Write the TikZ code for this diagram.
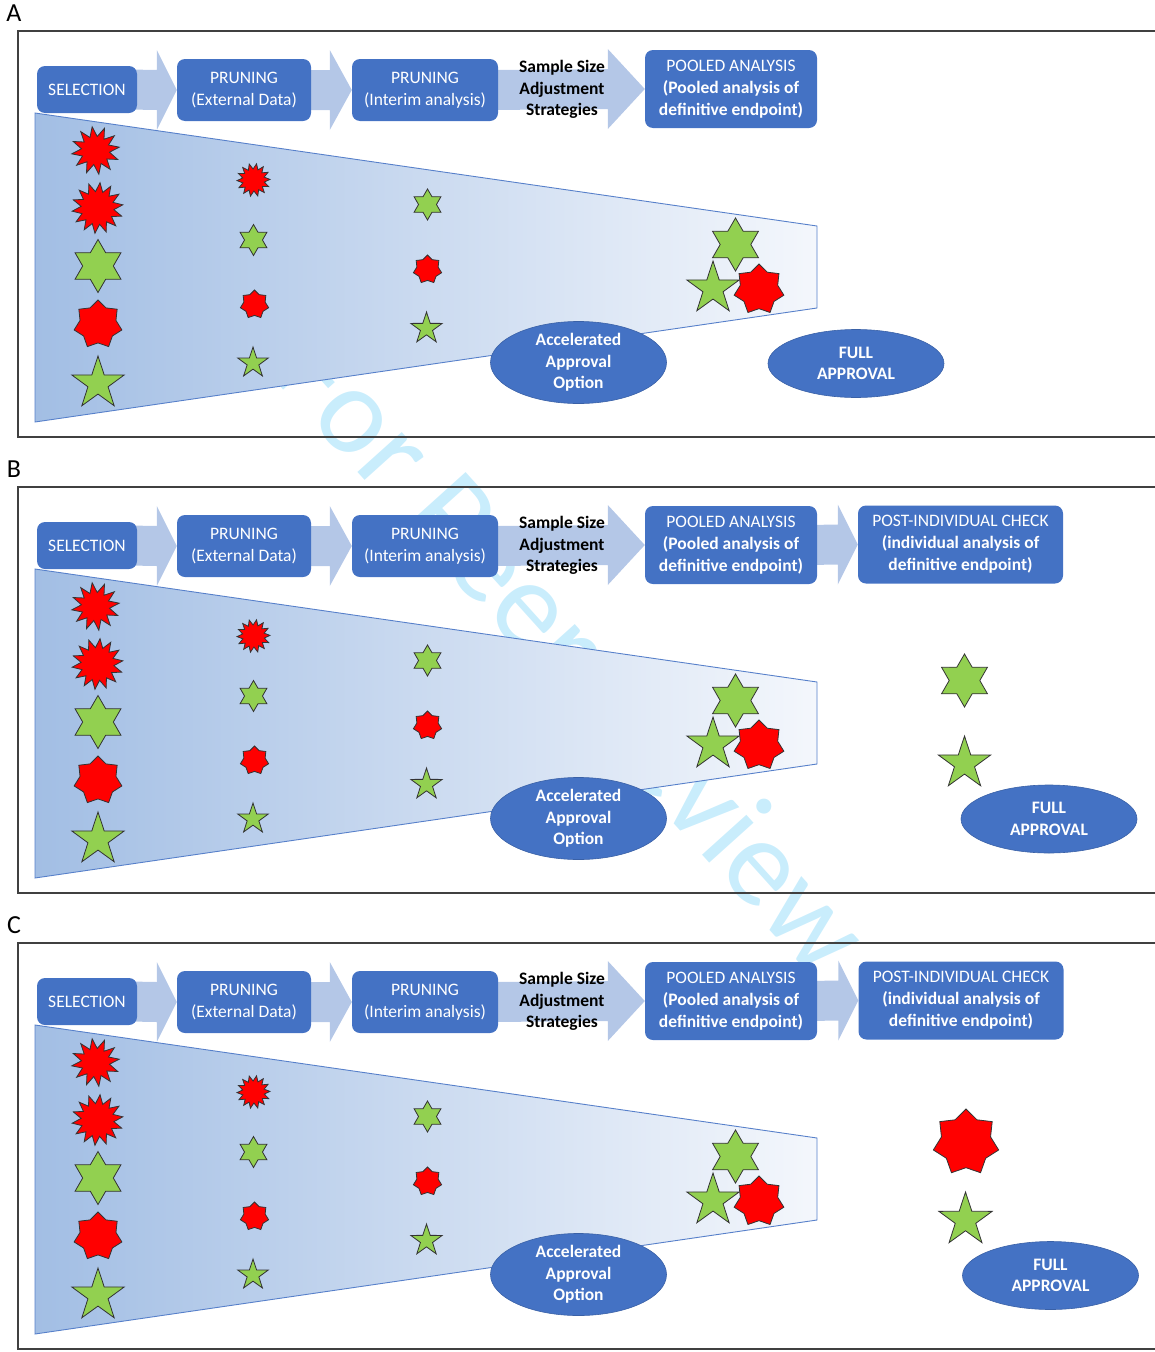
\documentclass[tikz,border=0pt]{standalone}
\usepackage{fontspec}
\setmainfont{Carlito}
\usetikzlibrary{shapes.geometric,calc,positioning}
\pgfdeclarelayer{bg}
\pgfsetlayers{bg,main}
\definecolor{boxblue}{HTML}{4472C4}
\definecolor{arrowblue}{HTML}{B4C7E7}
\definecolor{funnelL}{HTML}{A2BEE4}
\definecolor{funnelR}{HTML}{F4F7FC}
\definecolor{starred}{HTML}{FF0000}
\definecolor{stargreen}{HTML}{92D050}
\definecolor{wmark}{HTML}{C9EDFC}
\tikzset{
  panel/.style    = {draw=black!75, line width=1.6pt},
  tag/.style      = {font=\fontsize{26}{26}\selectfont, inner sep=0pt},
  stepbox/.style  = {fill=boxblue, rounded corners=8pt, text=white, align=center,
                     inner sep=0pt, font=\fontsize{17.5}{22}\selectfont},
  sizetext/.style = {align=center, font=\bfseries\fontsize{17.5}{21.5}\selectfont},
  outcome/.style  = {ellipse, fill=boxblue, draw=boxblue!85!black, line width=0.6pt,
                     text=white, align=center, inner sep=0pt, minimum width=176pt,
                     minimum height=68pt, font=\bfseries\fontsize{17.5}{21.5}\selectfont},
  chev/.style     = {fill=arrowblue},
  funnel/.style   = {draw=boxblue!90, line width=0.9pt, left color=funnelL, right color=funnelR},
  shp/.style      = {star, draw=black!80, line width=0.8pt, inner sep=0pt},
  burst/.style    = {shp, star points=12, star point ratio=1.7, fill=starred},
  hexa/.style     = {shp, star points=6, star point ratio=1.73, fill=stargreen},
  penta/.style    = {shp, star points=5, star point ratio=2.6, fill=stargreen},
  hepta/.style    = {shp, star points=7, star point ratio=1.33, fill=starred},
}
% chevron between two boxes: from, to, head length
\newcommand{\procarrow}[3]{%
  \begin{pgfonlayer}{bg}
  \fill[chev] ($(#1.east)+(-8,-20)$) -- ($(#2.west)+(-#3,-20)$) -- ($(#2.west)+(-#3,-40)$)
    -- (#2.west) -- ($(#2.west)+(-#3,40)$) -- ($(#2.west)+(-#3,20)$)
    -- ($(#1.east)+(-8,20)$) -- cycle;
  \end{pgfonlayer}}
% common part of a panel: suffix, letter
\newcommand{\pipeline}[2]{%
  \node[tag] (lbl#1) at (14,13) {#2};
  \draw[panel] (1160,31) -- (18,31) -- (18,437) -- (1160,437);
  \draw[funnel] (35,113) -- (817,226) -- (817,308) -- (35,422) -- cycle;
  \node[stepbox, minimum width=100pt, minimum height=47pt] (sel#1) at (87,89.5) {SELECTION};
  \node[stepbox, minimum width=134pt, minimum height=62pt] (ext#1) at (244,90) {PRUNING\\(External Data)};
  \node[stepbox, minimum width=146pt, minimum height=62pt] (int#1) at (425,90) {PRUNING\\(Interim analysis)};
  \node[stepbox, minimum width=172pt, minimum height=78pt] (pool#1) at (731,89)
    {POOLED ANALYSIS\\\textbf{(Pooled analysis of}\\\textbf{definitive endpoint)}};
  \node[sizetext] (ssa#1) at (562,89.5) {Sample Size\\Adjustment\\Strategies};
  \procarrow{sel#1}{ext#1}{20}
  \procarrow{ext#1}{int#1}{22}
  \procarrow{int#1}{pool#1}{37}
  % selection column
  \node[burst, minimum size=48pt, shape border rotate=8] (sa#1) at (95.5,150.5) {};
  \node[burst, star points=14, star point ratio=1.55, minimum size=51pt, shape border rotate=20] (sb#1) at (97.5,208) {};
  \node[hexa, minimum size=53pt] (sc#1) at (98,266) {};
  \node[hepta, minimum size=49pt] (sd#1) at (98,324.5) {};
  \node[penta, minimum size=55pt] (se#1) at (98,383.5) {};
  % external data column
  \node[burst, star points=14, star point ratio=1.5, minimum size=33pt, shape border rotate=15] (ea#1) at (253.5,180) {};
  \node[hexa, minimum size=31pt] (eb#1) at (253.5,240) {};
  \node[hepta, minimum size=29pt] (ec#1) at (254.5,304.5) {};
  \node[penta, minimum size=32pt] (ed#1) at (253,363) {};
  % interim column
  \node[hexa, minimum size=31pt] (ia#1) at (427.5,204.5) {};
  \node[hepta, minimum size=29pt] (ib#1) at (427.5,269.5) {};
  \node[penta, minimum size=33pt] (ic#1) at (426.5,328.5) {};
  % pooled cluster
  \node[hexa, minimum size=53pt] (pa#1) at (735.5,244.5) {};
  \node[penta, minimum size=55pt] (pb#1) at (713,288.5) {};
  \node[hepta, minimum size=51pt] (pc#1) at (759,289.5) {};
  \node[outcome] (acc#1) at (578.5,362.5) {Accelerated\\Approval\\Option};
}

\begin{document}
\begin{tikzpicture}[x=1pt,y=-1pt]
\useasboundingbox (0,0) rectangle (1154,1352);
\begin{pgfonlayer}{bg}
\node[rotate=-48, text=wmark, font=\fontsize{125}{125}\selectfont] (wm) at (575,650) {For Peer Review};
\end{pgfonlayer}

% A
\begin{scope}
\pipeline{a}{A}
\node[outcome] (fulla) at (856,363.5) {FULL\\APPROVAL};
\end{scope}

% B
\begin{scope}[yshift=-456pt]
\pipeline{b}{B}
\node[stepbox, minimum width=205pt, minimum height=78pt] (postb) at (960.5,88.5)
  {POST-INDIVIDUAL CHECK\\\textbf{(individual analysis of}\\\textbf{definitive endpoint)}};
\procarrow{poolb}{postb}{20}
\node[hexa, minimum size=53pt] (qab) at (964.5,224.5) {};
\node[penta, minimum size=55pt] (qbb) at (964.5,307.5) {};
\node[outcome] (fullb) at (1049,363) {FULL\\APPROVAL};
\end{scope}

% C
\begin{scope}[yshift=-912pt]
\pipeline{c}{C}
\node[stepbox, minimum width=205pt, minimum height=78pt] (postc) at (961,88.5)
  {POST-INDIVIDUAL CHECK\\\textbf{(individual analysis of}\\\textbf{definitive endpoint)}};
\procarrow{poolc}{postc}{20}
\node[hepta, minimum size=67pt] (qac) at (966,230.5) {};
\node[penta, minimum size=56pt] (qbc) at (965.5,308) {};
\node[outcome] (fullc) at (1050.5,363.5) {FULL\\APPROVAL};
\end{scope}
\end{tikzpicture}
\end{document}
